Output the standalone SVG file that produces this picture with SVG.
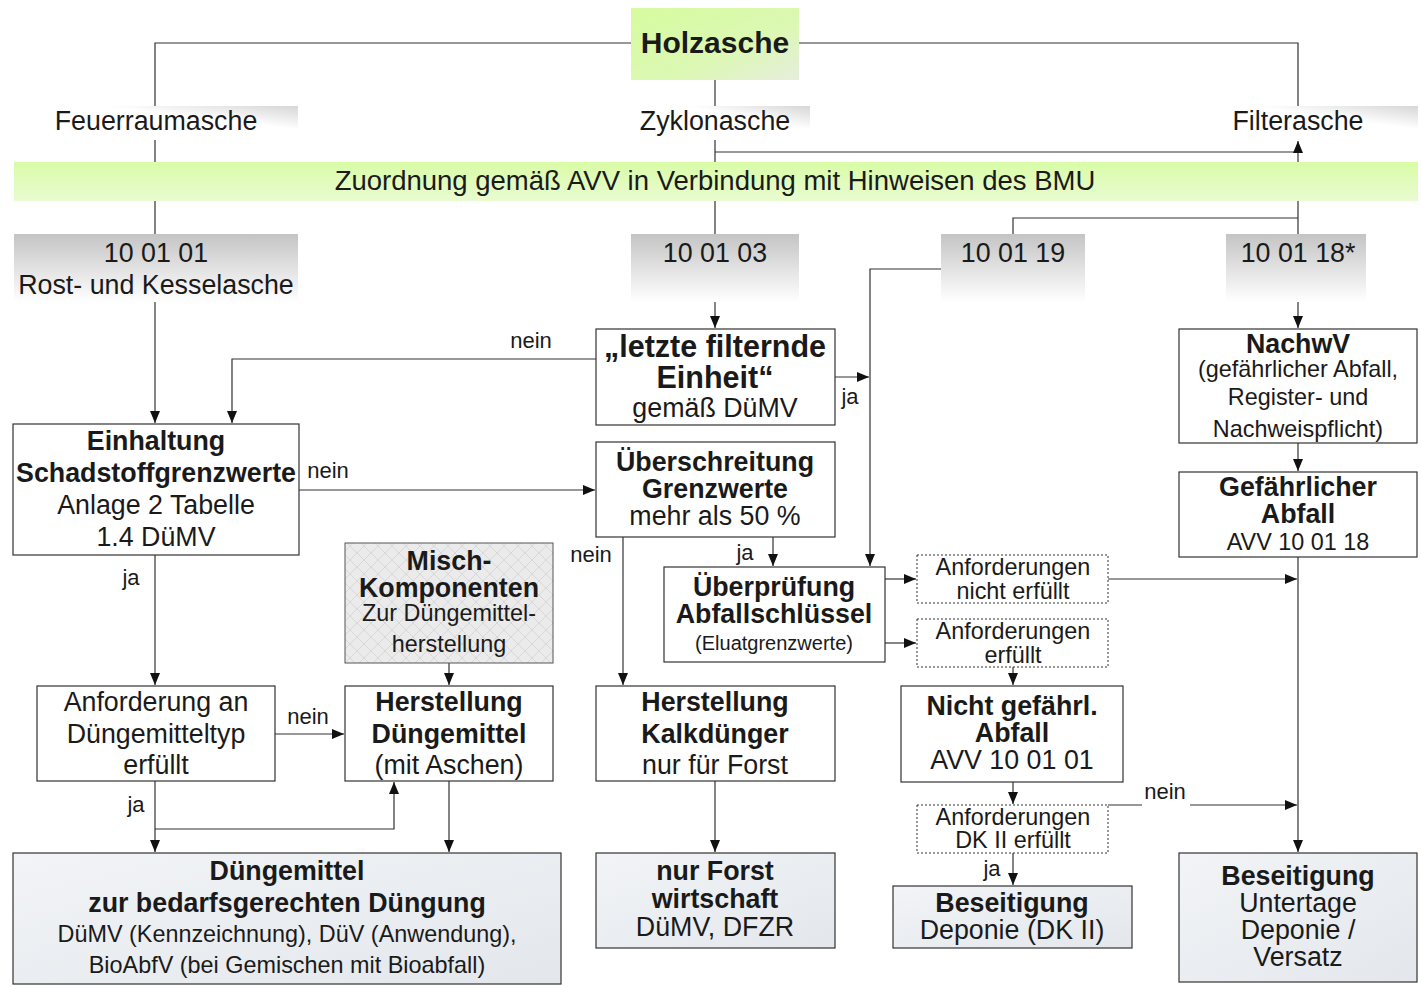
<svg xmlns="http://www.w3.org/2000/svg" width="1421" height="988" viewBox="0 0 1421 988">
<defs>
<style>
text{font-family:"Liberation Sans",Arial,sans-serif;fill:#1a1a1a;text-anchor:middle}
.b{font-weight:bold;font-size:26.8px}
.n{font-size:26.8px}
.s{font-size:23.4px}
.xs{font-size:20px}
.lbl{font-size:22px;text-anchor:middle}
.box{stroke:#333;stroke-width:1.2;fill:#fff}
.dash{stroke:#333;stroke-width:1;fill:#fff;stroke-dasharray:2,2}
.end{stroke:#333;stroke-width:1.2;fill:url(#gEnd)}
.code{fill:url(#gCode)}
.hdr{fill:url(#gHdr)}
.con{fill:none;stroke:#333;stroke-width:1.2}
.arr{marker-end:url(#ah)}
</style>
<marker id="ah" markerWidth="12" markerHeight="10" refX="12" refY="5" orient="auto" markerUnits="userSpaceOnUse">
<path d="M0,0 L12,5 L0,10 z" fill="#111"/>
</marker>
<linearGradient id="gHolz" x1="0" y1="0" x2="1" y2="1">
<stop offset="0" stop-color="#d6fb9f"/>
<stop offset="0.6" stop-color="#dcf8b4"/>
<stop offset="1" stop-color="#e6eedd"/>
</linearGradient>
<linearGradient id="gBand" x1="0" y1="0" x2="0" y2="1">
<stop offset="0" stop-color="#d9fca6"/>
<stop offset="1" stop-color="#e9fbd2"/>
</linearGradient>
<linearGradient id="gHdr" x1="0" y1="1" x2="1" y2="0">
<stop offset="0" stop-color="#ffffff"/>
<stop offset="0.65" stop-color="#ffffff"/>
<stop offset="1" stop-color="#d6d6d6"/>
</linearGradient>
<linearGradient id="gCode" x1="0" y1="0" x2="0" y2="1">
<stop offset="0" stop-color="#c4c4c4"/>
<stop offset="1" stop-color="#ffffff"/>
</linearGradient>
<linearGradient id="gEnd" x1="0" y1="0" x2="1" y2="1">
<stop offset="0" stop-color="#f2f4f7"/>
<stop offset="1" stop-color="#e3e7eb"/>
</linearGradient>
<pattern id="hatch" width="14" height="14" patternUnits="userSpaceOnUse">
<rect width="14" height="14" fill="#ebebeb"/>
<path d="M0,0 L14,14 M14,0 L0,14" stroke="#d8d8d8" stroke-width="1"/>
</pattern>
</defs>

<g id="connectors">
<path class="con" d="M631,43 H155 V106"/>
<path class="con" d="M799,43 H1298 V106"/>
<path class="con" d="M715,80 V106"/>
<path class="con" d="M155,140 V162 M155,201 V234"/>
<path class="con arr" d="M155,302 V423"/>
<path class="con" d="M715,140 V162 M715,201 V234"/>
<path class="con arr" d="M715,302 V328"/>
<path class="con" d="M715,152 H1298"/>
<path class="con" d="M1298,234 V201"/>
<path class="con arr" d="M1298,162 V141"/>
<path class="con" d="M1298,218 H1013 V234"/>
<path class="con arr" d="M1298,302 V328"/>
<path class="con arr" d="M941,269 H870 V566"/>
<path class="con arr" d="M835,377 H869"/>
<path class="con arr" d="M596,359 H232 V423"/>
<path class="con arr" d="M299,490 H595"/>
<path class="con arr" d="M623,537 V685"/>
<path class="con arr" d="M773,537 V566"/>
<path class="con arr" d="M885,579 H916"/>
<path class="con arr" d="M885,643 H916"/>
<path class="con arr" d="M1108,579 H1297"/>
<path class="con arr" d="M1013,667 V685"/>
<path class="con arr" d="M1013,782 V804"/>
<path class="con" d="M1108,805 H1142"/>
<path class="con arr" d="M1190,805 H1297"/>
<path class="con arr" d="M1013,853 V885"/>
<path class="con arr" d="M1298,443 V471"/>
<path class="con arr" d="M1298,557 V852"/>
<path class="con arr" d="M155,555 V685"/>
<path class="con arr" d="M275,734 H344"/>
<path class="con arr" d="M449,663 V685"/>
<path class="con arr" d="M155,781 V852"/>
<path class="con arr" d="M155,829 H394 V782"/>
<path class="con arr" d="M449,781 V852"/>
<path class="con arr" d="M715,781 V852"/>
</g>

<g id="edge-labels">
<text class="lbl" x="531" y="348">nein</text>
<text class="lbl" x="850" y="404">ja</text>
<text class="lbl" x="328" y="478">nein</text>
<text class="lbl" x="591" y="562">nein</text>
<text class="lbl" x="745" y="560">ja</text>
<text class="lbl" x="131" y="585">ja</text>
<text class="lbl" x="308" y="724">nein</text>
<text class="lbl" x="136" y="812">ja</text>
<text class="lbl" x="1165" y="799">nein</text>
<text class="lbl" x="992" y="876">ja</text>
</g>

<g id="holzasche">
<rect x="631" y="8" width="168" height="72" fill="url(#gHolz)"/>
<text class="b" x="715" y="53" style="font-size:30px">Holzasche</text>
</g>
<g id="feuerraumasche">
<rect class="hdr" x="14" y="106" width="284" height="34"/>
<text class="n" x="156" y="130">Feuerraumasche</text>
</g>
<g id="zyklonasche">
<rect class="hdr" x="631" y="106" width="179" height="34"/>
<text class="n" x="715" y="130">Zyklonasche</text>
</g>
<g id="filterasche">
<rect class="hdr" x="1180" y="106" width="238" height="34"/>
<text class="n" x="1298" y="130">Filterasche</text>
</g>
<g id="zuordnung">
<rect x="14" y="162" width="1404" height="39" fill="url(#gBand)"/>
<text class="n" x="715" y="190" style="font-size:27.5px">Zuordnung gemäß AVV in Verbindung mit Hinweisen des BMU</text>
</g>
<g id="code-100101">
<rect class="code" x="14" y="234" width="284" height="68"/>
<text class="n" x="156" y="262">10 01 01</text>
<text class="n" x="156" y="294">Rost- und Kesselasche</text>
</g>
<g id="code-100103">
<rect class="code" x="631" y="234" width="168" height="68"/>
<text class="n" x="715" y="262">10 01 03</text>
</g>
<g id="code-100119">
<rect class="code" x="941" y="234" width="144" height="68"/>
<text class="n" x="1013" y="262">10 01 19</text>
</g>
<g id="code-100118">
<rect class="code" x="1226" y="234" width="140" height="68"/>
<text class="n" x="1298" y="262">10 01 18*</text>
</g>

<g id="letzte-filternde-einheit">
<rect class="box" x="596" y="329" width="239" height="96"/>
<text class="b" x="715" y="357" style="font-size:30.5px">„letzte filternde</text>
<text class="b" x="715" y="388" style="font-size:30.5px">Einheit“</text>
<text class="n" x="715" y="417">gemäß DüMV</text>
</g>
<g id="einhaltung">
<rect class="box" x="13" y="424" width="286" height="131"/>
<text class="b" x="156" y="450">Einhaltung</text>
<text class="b" x="156" y="482">Schadstoffgrenzwerte</text>
<text class="n" x="156" y="514">Anlage 2 Tabelle</text>
<text class="n" x="156" y="546">1.4 DüMV</text>
</g>
<g id="ueberschreitung">
<rect class="box" x="596" y="442" width="239" height="95"/>
<text class="b" x="715" y="471">Überschreitung</text>
<text class="b" x="715" y="498">Grenzwerte</text>
<text class="n" x="715" y="525">mehr als 50 %</text>
</g>
<g id="ueberpruefung">
<rect class="box" x="664" y="567" width="221" height="95"/>
<text class="b" x="774" y="596">Überprüfung</text>
<text class="b" x="774" y="623">Abfallschlüssel</text>
<text class="xs" x="774" y="650">(Eluatgrenzwerte)</text>
</g>
<g id="anf-nicht-erfuellt">
<rect class="dash" x="917" y="555" width="191" height="48"/>
<text class="s" x="1013" y="575">Anforderungen</text>
<text class="s" x="1013" y="599">nicht erfüllt</text>
</g>
<g id="anf-erfuellt">
<rect class="dash" x="917" y="619" width="191" height="48"/>
<text class="s" x="1013" y="639">Anforderungen</text>
<text class="s" x="1013" y="663">erfüllt</text>
</g>
<g id="nicht-gefaehrl">
<rect class="box" x="901" y="686" width="222" height="96"/>
<text class="b" x="1012" y="715">Nicht gefährl.</text>
<text class="b" x="1012" y="742">Abfall</text>
<text class="n" x="1012" y="769">AVV 10 01 01</text>
</g>
<g id="anf-dk2">
<rect class="dash" x="917" y="805" width="191" height="48"/>
<text class="s" x="1013" y="825">Anforderungen</text>
<text class="s" x="1013" y="848">DK II erfüllt</text>
</g>
<g id="beseitigung-deponie">
<rect class="end" x="893" y="886" width="239" height="62"/>
<text class="b" x="1012" y="912">Beseitigung</text>
<text class="n" x="1012" y="939">Deponie (DK II)</text>
</g>
<g id="nachwv">
<rect class="box" x="1179" y="329" width="238" height="114"/>
<text class="b" x="1298" y="353">NachwV</text>
<text class="s" x="1298" y="377">(gefährlicher Abfall,</text>
<text class="s" x="1298" y="405">Register- und</text>
<text class="s" x="1298" y="437">Nachweispflicht)</text>
</g>
<g id="gefaehrlicher-abfall">
<rect class="box" x="1179" y="472" width="238" height="85"/>
<text class="b" x="1298" y="496">Gefährlicher</text>
<text class="b" x="1298" y="523">Abfall</text>
<text class="s" x="1298" y="550">AVV 10 01 18</text>
</g>
<g id="beseitigung-untertage">
<rect class="end" x="1179" y="853" width="238" height="129"/>
<text class="b" x="1298" y="885">Beseitigung</text>
<text class="n" x="1298" y="912">Untertage</text>
<text class="n" x="1298" y="939">Deponie /</text>
<text class="n" x="1298" y="966">Versatz</text>
</g>
<g id="misch-komponenten">
<rect x="345" y="543" width="208" height="120" fill="url(#hatch)" stroke="#555" stroke-width="1"/>
<text class="b" x="449" y="570">Misch-</text>
<text class="b" x="449" y="597">Komponenten</text>
<text class="s" x="449" y="621">Zur Düngemittel-</text>
<text class="s" x="449" y="652">herstellung</text>
</g>
<g id="anforderung-duengemitteltyp">
<rect class="box" x="37" y="686" width="238" height="95"/>
<text class="n" x="156" y="711">Anforderung an</text>
<text class="n" x="156" y="743">Düngemitteltyp</text>
<text class="n" x="156" y="774">erfüllt</text>
</g>
<g id="herstellung-duengemittel">
<rect class="box" x="345" y="686" width="208" height="95"/>
<text class="b" x="449" y="711">Herstellung</text>
<text class="b" x="449" y="743">Düngemittel</text>
<text class="n" x="449" y="774">(mit Aschen)</text>
</g>
<g id="herstellung-kalkduenger">
<rect class="box" x="596" y="686" width="239" height="95"/>
<text class="b" x="715" y="711">Herstellung</text>
<text class="b" x="715" y="743">Kalkdünger</text>
<text class="n" x="715" y="774">nur für Forst</text>
</g>
<g id="duengemittel">
<rect class="end" x="13" y="853" width="548" height="131"/>
<text class="b" x="287" y="880">Düngemittel</text>
<text class="b" x="287" y="912">zur bedarfsgerechten Düngung</text>
<text class="s" x="287" y="942">DüMV (Kennzeichnung), DüV (Anwendung),</text>
<text class="s" x="287" y="973">BioAbfV (bei Gemischen mit Bioabfall)</text>
</g>
<g id="nur-forstwirtschaft">
<rect class="end" x="596" y="853" width="239" height="95"/>
<text class="b" x="715" y="880">nur Forst</text>
<text class="b" x="715" y="908">wirtschaft</text>
<text class="n" x="715" y="936">DüMV, DFZR</text>
</g>
</svg>
